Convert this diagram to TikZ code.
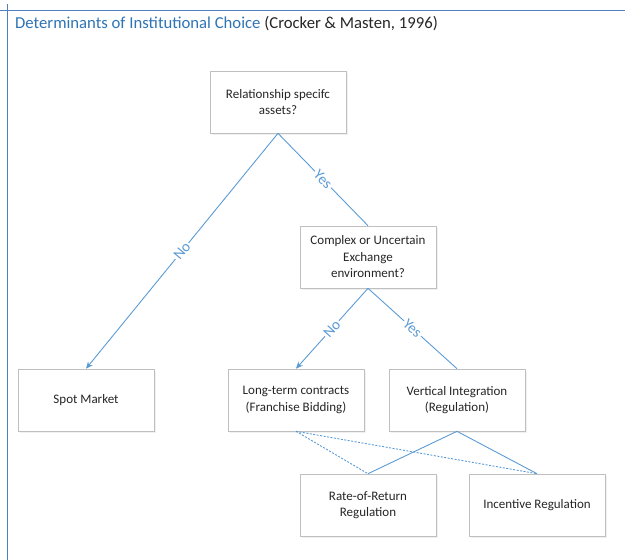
\documentclass[tikz,border=0pt]{standalone}
\usepackage{fontspec}
\setmainfont{Carlito}
\usepackage{tikz}
\usetikzlibrary{arrows.meta,shadows}

\definecolor{linecol}{RGB}{91,155,213}
\definecolor{titlecol}{RGB}{46,116,181}
\definecolor{framecol}{RGB}{79,129,189}
\definecolor{boxcol}{RGB}{191,191,191}
\definecolor{textcol}{RGB}{38,38,38}

\tikzset{
	box/.style={draw=boxcol, line width=0.6pt, fill=white, minimum width=136pt, minimum height=62pt,
		align=center, text=textcol, font=\fontsize{13}{16.5}\selectfont,
		drop shadow={opacity=0.12, shadow xshift=1.5pt, shadow yshift=-1.5pt}},
	link/.style={draw=linecol, line width=0.9pt},
	lbl/.style={sloped, fill=white, inner sep=1.5pt, text=linecol, font=\fontsize{15}{17}\selectfont}
}

\begin{document}
\begin{tikzpicture}[x=1pt, y=-1pt]
		\useasboundingbox (0,0) rectangle (625,560);

		% Frame
		\draw[framecol, line width=1pt] (0,10) -- (625,10);
		\draw[framecol, line width=1pt] (7,4) -- (7,560);

		% Title
		\node[anchor=west, inner sep=0pt, text=textcol, font=\fontsize{16.7}{19}\selectfont] (title) at (15,24)
			{\textcolor{titlecol}{Determinants of Institutional Choice} (Crocker \& Masten, 1996)};

		% Boxes
		\node[box] (assets) at (278,102) {Relationship specifc\\assets?};
		\node[box] (complex) at (368,257) {Complex or Uncertain\\Exchange\\environment?};
		\node[box] (spot) at (86,400) {Spot Market};
		\node[box] (longterm) at (296,400) {Long-term contracts\\(Franchise Bidding)};
		\node[box] (vertical) at (457,400) {Vertical Integration\\(Regulation)};
		\node[box] (ror) at (368,505) {Rate-of-Return\\Regulation};
		\node[box] (incentive) at (537,505) {Incentive Regulation};

		% Decisions
		\draw[link, -{Stealth[length=7pt, width=6pt]}] (assets.south) -- node[lbl, midway] {No} (spot.north);
		\draw[link] (assets.south) -- node[lbl, midway] {Yes} (complex.north);
		\draw[link, -{Stealth[length=7pt, width=6pt]}] (complex.south) -- node[lbl, midway] {No} (longterm.north);
		\draw[link] (complex.south) -- node[lbl, midway] {Yes} (vertical.north);

		% Regulation options
		\draw[link, dash pattern=on 2pt off 1.5pt] (longterm.south) -- (ror.north);
		\draw[link, dash pattern=on 2pt off 1.5pt] (longterm.south) -- (incentive.north);
		\draw[link] (vertical.south) -- (ror.north);
		\draw[link] (vertical.south) -- (incentive.north);
	\end{tikzpicture}
\end{document}
